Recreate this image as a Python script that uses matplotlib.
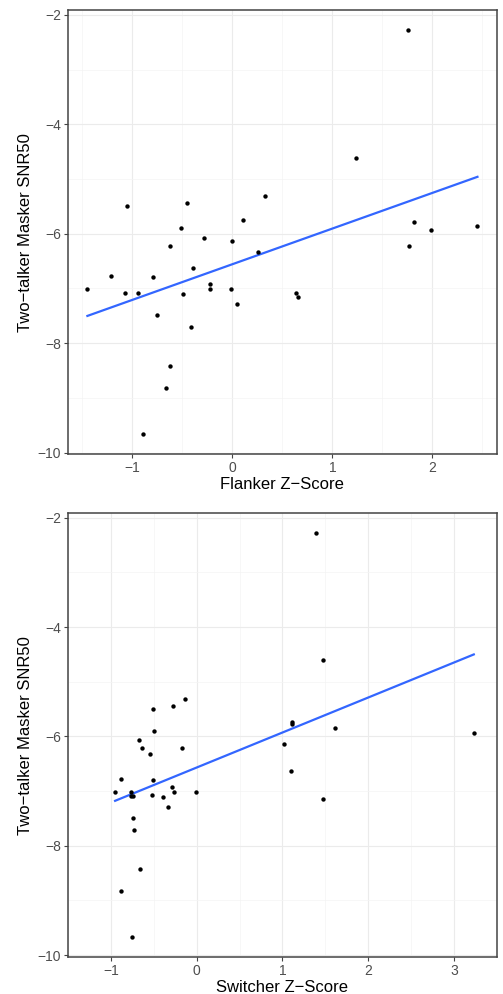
import matplotlib
matplotlib.use("Agg")
import matplotlib.pyplot as plt
import numpy as np

plt.rcParams['font.family'] = ['Liberation Sans', 'DejaVu Sans']

# Panel 1 : Flanker
flanker_z = [1.76, 1.24, -1.05, -0.455, 0.33, 0.107, -0.515, -0.285, -0.006, -0.628,
             0.26, 1.815, 1.99, 2.45, 1.77, -0.39, -1.21, -0.79, -1.45, -1.07,
             -0.94, -0.495, -0.22, -0.22, -0.01, 0.64, 0.66, 0.05, -0.75, -0.41,
             -0.62, -0.66, -0.89]
flanker_snr = [-2.28, -4.62, -5.50, -5.44, -5.31, -5.74, -5.90, -6.07, -6.14, -6.22,
               -6.33, -5.78, -5.93, -5.85, -6.22, -6.63, -6.77, -6.79, -7.01, -7.08,
               -7.09, -7.10, -6.92, -7.01, -7.01, -7.09, -7.15, -7.29, -7.48, -7.71,
               -8.42, -8.82, -9.66]

# Panel 2 : Switcher
switcher_z = [1.386, 1.475, -0.51, -0.27, -0.135, 1.115, 1.115, -0.50, 1.61, 3.23,
              -0.67, -0.64, -0.17, 1.015, -0.54, 1.105, -0.88, -0.51, -0.95, -0.77,
              -0.76, -0.74, -0.52, -0.39, -0.29, -0.26, -0.01, 1.47, -0.33, -0.74,
              -0.725, -0.655, -0.885, -0.755]
switcher_snr = [-2.28, -4.61, -5.50, -5.44, -5.31, -5.73, -5.77, -5.90, -5.85, -5.93,
                -6.06, -6.22, -6.22, -6.14, -6.33, -6.63, -6.77, -6.80, -7.01, -7.01,
                -7.09, -7.09, -7.08, -7.11, -6.93, -7.01, -7.01, -7.15, -7.29, -7.49,
                -7.72, -8.43, -8.83, -9.67]

panels = [
    (flanker_z, flanker_snr, 'Flanker Z\u2212Score', [-1, 0, 1, 2]),
    (switcher_z, switcher_snr, 'Switcher Z\u2212Score', [-1, 0, 1, 2, 3]),
]
y_label = 'Two\u2212talker Masker SNR50'
y_ticks = [-10, -8, -6, -4, -2]

fig = plt.figure(figsize=(5.03, 9.94), dpi=100)
positions = [[0.135, 0.543, 0.853, 0.447], [0.135, 0.037, 0.853, 0.447]]

for pos, (x, y, xlab, xt) in zip(positions, panels):
    ax = fig.add_axes(pos)
    x = np.array(x)
    y = np.array(y)

    # style theme_bw
    for s in ax.spines.values():
        s.set_color('#444444')
        s.set_linewidth(1.1)
    ax.set_axisbelow(True)

    # regression line (lm)
    pente, origine = np.polyfit(x, y, 1)
    xx = np.linspace(x.min(), x.max(), 50)
    ax.plot(xx, pente * xx + origine, color='#3366FF', lw=1.6, zorder=2)
    ax.scatter(x, y, s=10, color='black', zorder=3, linewidths=0)

    # limits with 5% padding
    dx = (x.max() - x.min()) * 0.05
    dy = (y.max() - y.min()) * 0.05
    ax.set_xlim(x.min() - dx, x.max() + dx)
    ax.set_ylim(y.min() - dy, y.max() + dy)

    ax.set_xticks(xt)
    ax.set_yticks(y_ticks)
    ax.set_xticks([v + 0.5 for v in [-2] + xt], minor=True)
    ax.set_yticks([-9, -7, -5, -3], minor=True)
    ax.grid(True, which='major', color='#EBEBEB', lw=0.8)
    ax.grid(True, which='minor', color='#F4F4F4', lw=0.5)
    ax.tick_params(which='major', length=3, width=0.8, color='#444444',
                   labelcolor='#4D4D4D', labelsize=10, pad=2)
    ax.tick_params(which='minor', length=0)
    ax.set_yticklabels([str(v).replace('-', '\u2212') for v in y_ticks])
    ax.set_xticklabels([str(v).replace('-', '\u2212') for v in xt])

    ax.set_xlabel(xlab, fontsize=12, labelpad=1)
    ax.set_ylabel(y_label, fontsize=12, labelpad=3)

plt.savefig('out.png', dpi=100)
plt.close()
